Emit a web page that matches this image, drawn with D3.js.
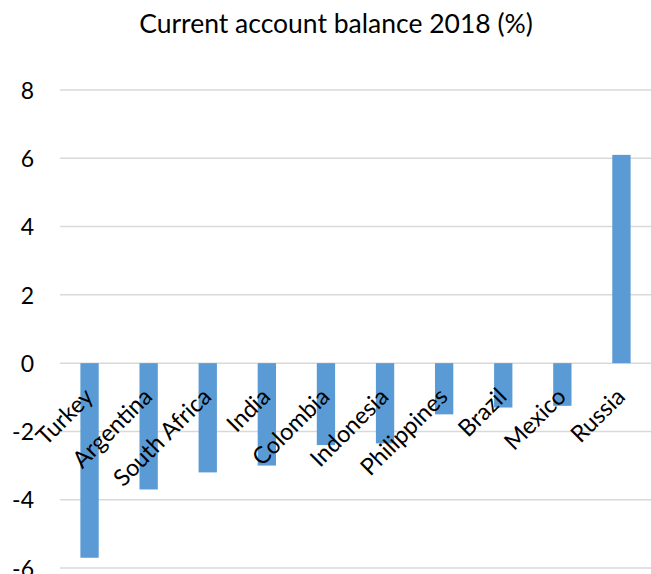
<!DOCTYPE html>
<html>
<head>
<meta charset="utf-8">
<script src="https://cdn.jsdelivr.net/npm/d3@7"></script>
<style>
  html, body { margin: 0; padding: 0; background: #fff; }
  svg { display: block; font-family: Lato, "Open Sans", sans-serif; }
</style>
</head>
<body>
<svg id="chart" width="651" height="574"></svg>
<script>
const categories = ["Turkey", "Argentina", "South Africa", "India", "Colombia", "Indonesia", "Philippines", "Brazil", "Mexico", "Russia"];
const values = [-5.7, -3.7, -3.2, -3.0, -2.4, -2.35, -1.5, -1.3, -1.25, 6.1];
const yTicks = [-6, -4, -2, 0, 2, 4, 6, 8];
const title = "Current account balance 2018 (%)";

const svg = d3.select("#chart");
const plotLeft = 60, plotRight = 651, plotTop = 90, plotBottom = 568;

const x = d3.scaleBand().domain(categories).range([plotLeft, plotRight]).paddingInner(0.69).paddingOuter(0.345);
const y = d3.scaleLinear().domain([-6, 8]).range([plotBottom, plotTop]);

// gridlines
svg.append("g").selectAll("line").data(yTicks).join("line")
  .attr("x1", plotLeft).attr("x2", plotRight)
  .attr("y1", d => y(d)).attr("y2", d => y(d))
  .attr("stroke", "#d9d9d9").attr("stroke-width", 1.5);

// y axis labels (plain hyphen minus, as in the reference)
const yAxis = d3.axisLeft(y).tickValues(yTicks).tickSize(0).tickPadding(0).tickFormat(d => String(d));
const ya = svg.append("g").attr("transform", "translate(34,0)").call(yAxis);
ya.select(".domain").remove();
ya.selectAll("text").attr("font-size", 23).attr("fill", "#000").attr("font-family", "Lato, sans-serif").attr("dy", "0.36em");

// bars
svg.append("g").selectAll("rect").data(values).join("rect")
  .attr("x", (d, i) => x(categories[i]))
  .attr("width", x.bandwidth())
  .attr("y", d => y(Math.max(0, d)))
  .attr("height", d => Math.abs(y(d) - y(0)))
  .attr("fill", "#5b9bd5");

// category labels
svg.append("g").selectAll("text").data(categories).join("text")
  .attr("transform", d => `translate(${x(d) + x.bandwidth() / 2 + 5},${y(0) + 35}) rotate(-45)`)
  .attr("text-anchor", "end")
  .attr("font-size", 23.5)
  .attr("fill", "#000")
  .text(d => d);

// title
svg.append("text")
  .attr("x", 336).attr("y", 33)
  .attr("text-anchor", "middle")
  .attr("font-size", 26.5)
  .attr("fill", "#000")
  .text(title);
</script>
</body>
</html>
